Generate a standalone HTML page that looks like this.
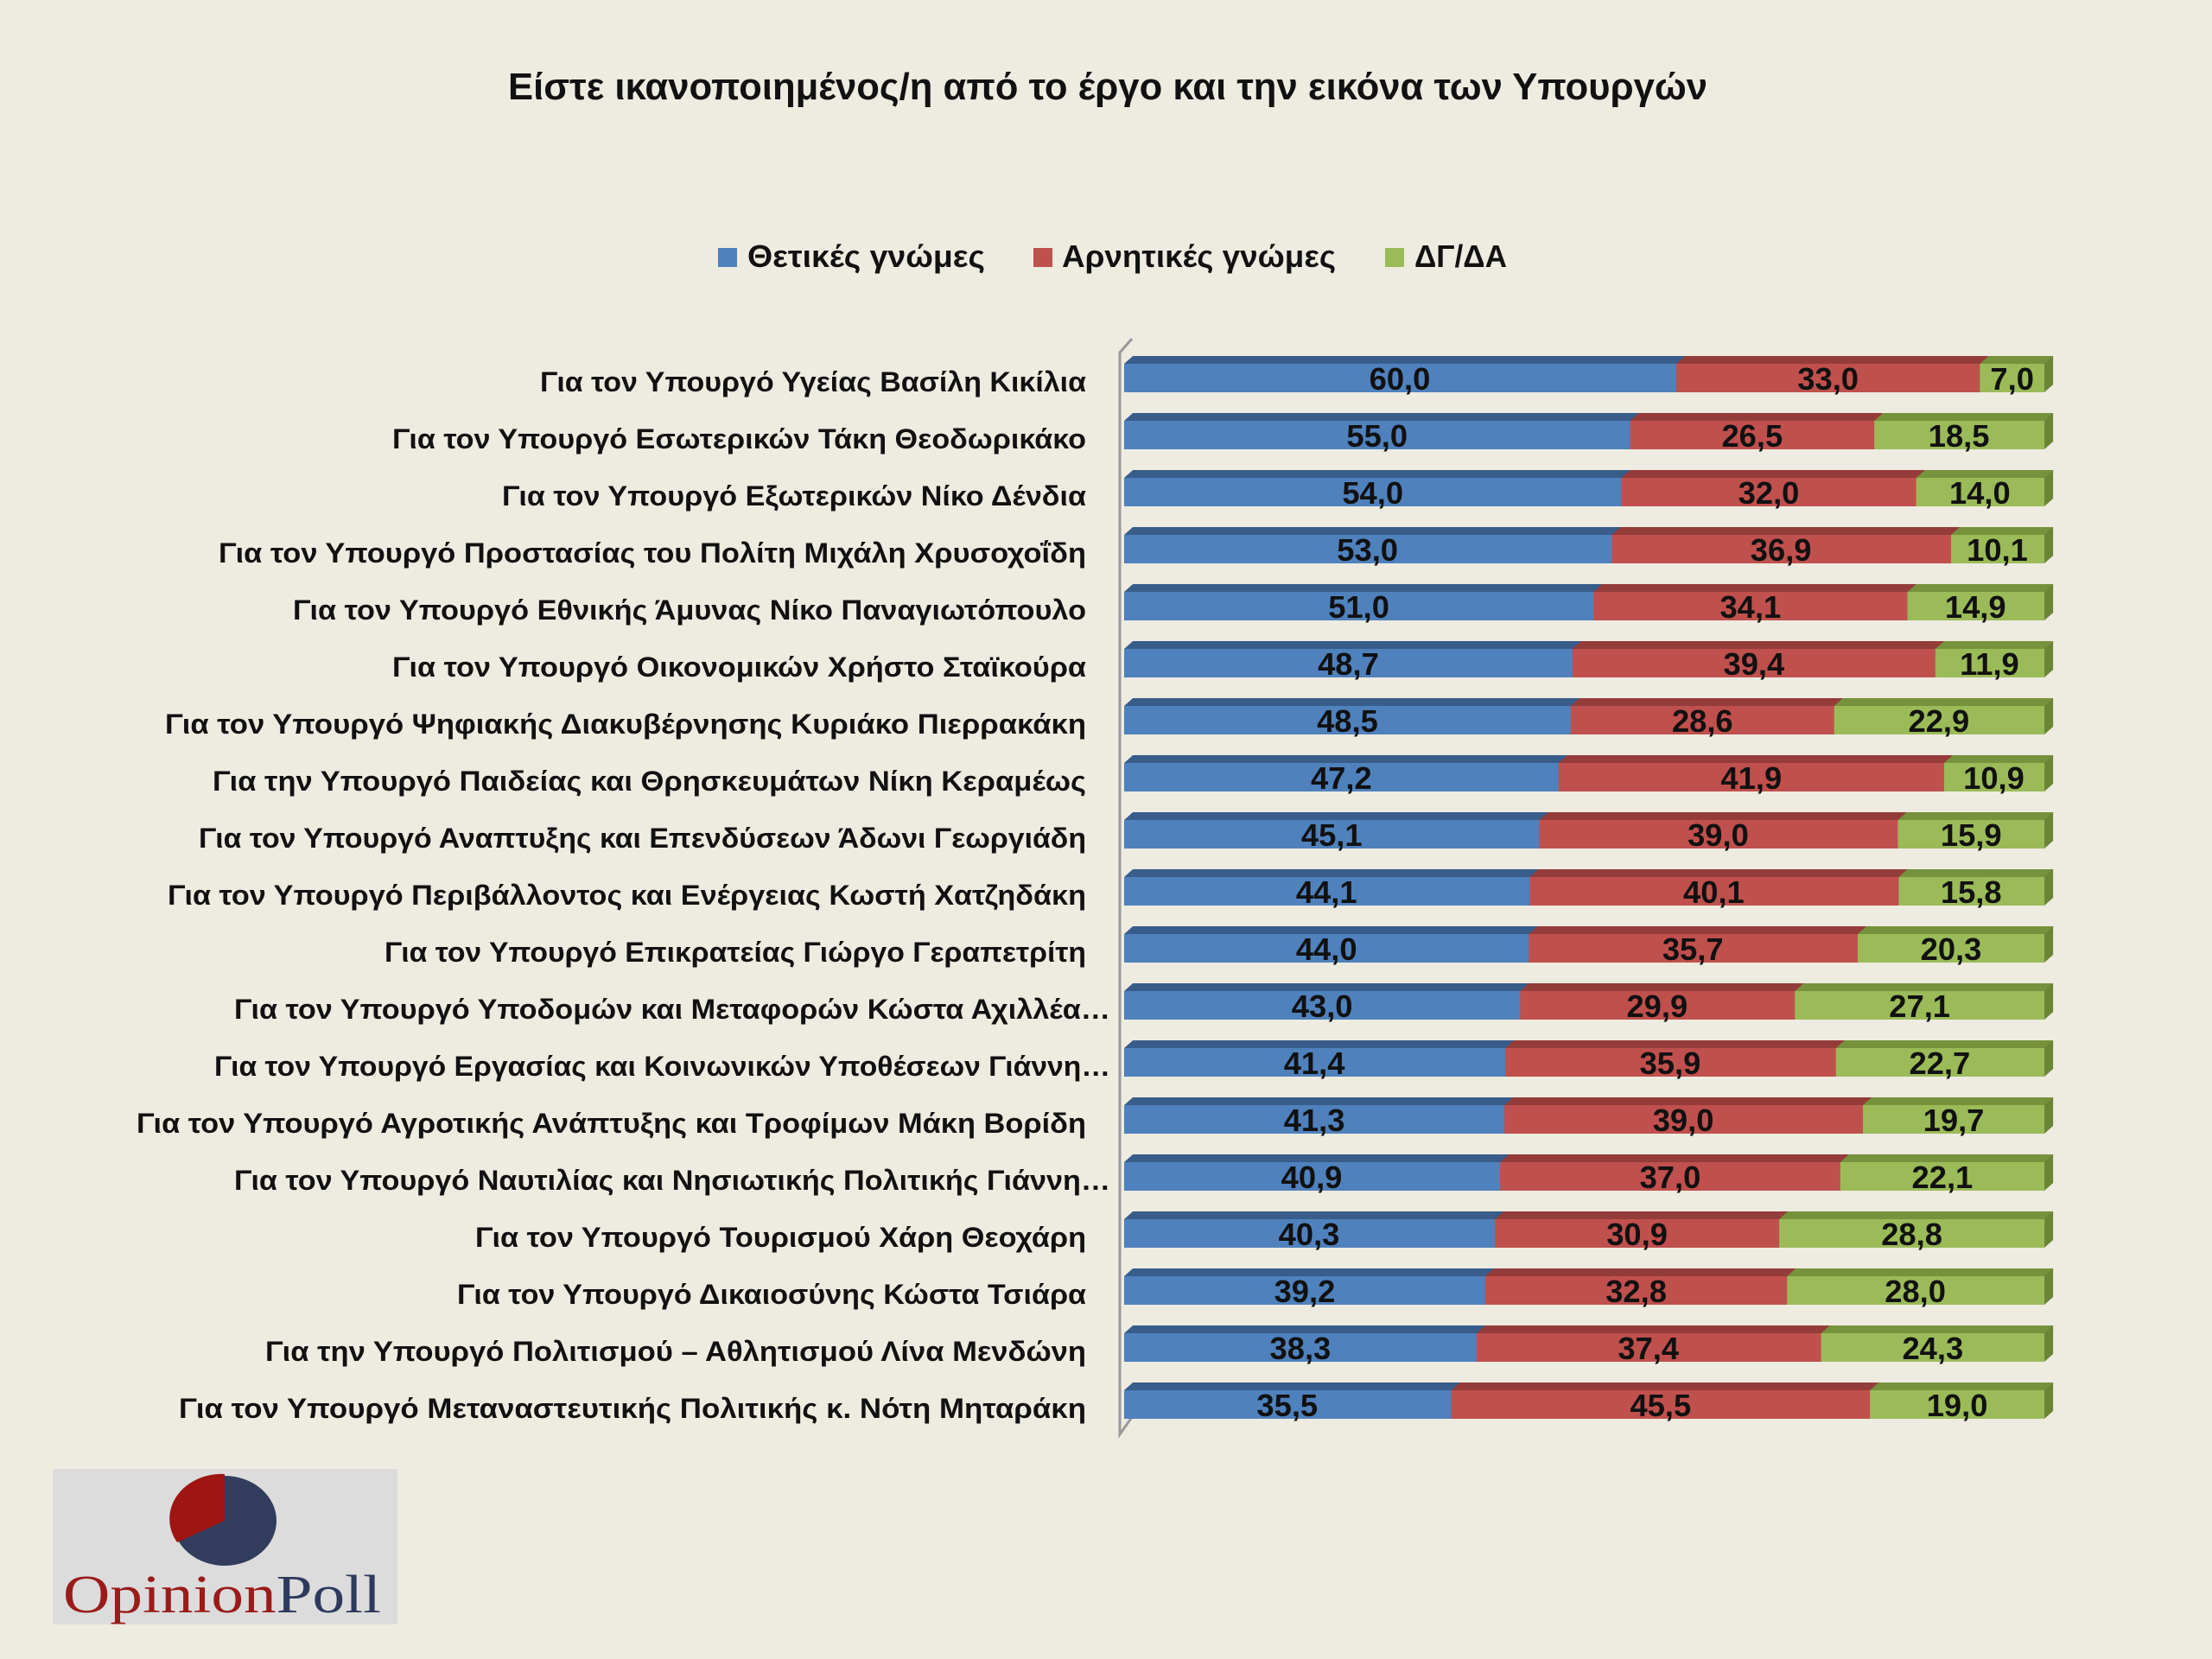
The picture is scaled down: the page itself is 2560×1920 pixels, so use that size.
<!DOCTYPE html>
<html><head><meta charset="utf-8"><style>html,body{margin:0;padding:0;background:#eeebe1}svg{display:block}</style></head><body>
<svg width="2560" height="1920" viewBox="0 0 2560 1920" xmlns="http://www.w3.org/2000/svg" font-family="'Liberation Sans', sans-serif" font-weight="bold">
<rect width="2560" height="1920" fill="#eeebe1"/>
<text x="1282" y="115" font-size="44" text-anchor="middle" textLength="1388" lengthAdjust="spacingAndGlyphs" fill="#111">Είστε ικανοποιημένος/η από το έργο και την εικόνα των Υπουργών</text>
<g font-size="36" fill="#111">
<rect x="831" y="287" width="22" height="22" fill="#4f81bd"/><text x="865" y="309" textLength="275" lengthAdjust="spacingAndGlyphs">Θετικές γνώμες</text>
<rect x="1196" y="287" width="22" height="22" fill="#c0504d"/><text x="1229" y="309" textLength="317" lengthAdjust="spacingAndGlyphs">Αρνητικές γνώμες</text>
<rect x="1603" y="287" width="22" height="22" fill="#9bbb59"/><text x="1637" y="309" textLength="107" lengthAdjust="spacingAndGlyphs">ΔΓ/ΔΑ</text>
</g>
<polyline points="1310,392 1296,408 1296,1660 1310,1640" fill="none" stroke="#999" stroke-width="3"/>
<g font-size="32" fill="#111" text-anchor="end">
<text x="1257" y="453" textLength="632" lengthAdjust="spacingAndGlyphs">Για τον Υπουργό Υγείας Βασίλη Κικίλια</text>
<text x="1257" y="519" textLength="803" lengthAdjust="spacingAndGlyphs">Για τον Υπουργό Εσωτερικών Τάκη Θεοδωρικάκο</text>
<text x="1257" y="585" textLength="676" lengthAdjust="spacingAndGlyphs">Για τον Υπουργό Εξωτερικών Νίκο Δένδια</text>
<text x="1257" y="651" textLength="1004" lengthAdjust="spacingAndGlyphs">Για τον Υπουργό Προστασίας του Πολίτη Μιχάλη Χρυσοχοΐδη</text>
<text x="1257" y="717" textLength="918" lengthAdjust="spacingAndGlyphs">Για τον Υπουργό Εθνικής Άμυνας Νίκο Παναγιωτόπουλο</text>
<text x="1257" y="783" textLength="803" lengthAdjust="spacingAndGlyphs">Για τον Υπουργό Οικονομικών Χρήστο Σταϊκούρα</text>
<text x="1257" y="849" textLength="1066" lengthAdjust="spacingAndGlyphs">Για τον Υπουργό Ψηφιακής Διακυβέρνησης Κυριάκο Πιερρακάκη</text>
<text x="1257" y="915" textLength="1011" lengthAdjust="spacingAndGlyphs">Για την Υπουργό Παιδείας και Θρησκευμάτων Νίκη Κεραμέως</text>
<text x="1257" y="981" textLength="1027" lengthAdjust="spacingAndGlyphs">Για τον Υπουργό Αναπτυξης και Επενδύσεων Άδωνι Γεωργιάδη</text>
<text x="1257" y="1047" textLength="1063" lengthAdjust="spacingAndGlyphs">Για τον Υπουργό Περιβάλλοντος και Ενέργειας Κωστή Χατζηδάκη</text>
<text x="1257" y="1113" textLength="812" lengthAdjust="spacingAndGlyphs">Για τον Υπουργό Επικρατείας Γιώργο Γεραπετρίτη</text>
<text x="1285" y="1179" textLength="1014" lengthAdjust="spacingAndGlyphs">Για τον Υπουργό Υποδομών και Μεταφορών Κώστα Αχιλλέα…</text>
<text x="1285" y="1245" textLength="1037" lengthAdjust="spacingAndGlyphs">Για τον Υπουργό Εργασίας και Κοινωνικών Υποθέσεων Γιάννη…</text>
<text x="1257" y="1311" textLength="1099" lengthAdjust="spacingAndGlyphs">Για τον Υπουργό Αγροτικής Ανάπτυξης και Τροφίμων Μάκη Βορίδη</text>
<text x="1285" y="1377" textLength="1014" lengthAdjust="spacingAndGlyphs">Για τον Υπουργό Ναυτιλίας και Νησιωτικής Πολιτικής Γιάννη…</text>
<text x="1257" y="1443" textLength="707" lengthAdjust="spacingAndGlyphs">Για τον Υπουργό Τουρισμού Χάρη Θεοχάρη</text>
<text x="1257" y="1509" textLength="728" lengthAdjust="spacingAndGlyphs">Για τον Υπουργό Δικαιοσύνης Κώστα Τσιάρα</text>
<text x="1257" y="1575" textLength="950" lengthAdjust="spacingAndGlyphs">Για την Υπουργό Πολιτισμού – Αθλητισμού Λίνα Μενδώνη</text>
<text x="1257" y="1641" textLength="1050" lengthAdjust="spacingAndGlyphs">Για τον Υπουργό Μεταναστευτικής Πολιτικής κ. Νότη Μηταράκη</text>
</g>
<defs>
<g id="base">
<polygon points="1301,421 1311,412 2366,412 2356,421" fill="#385d8a"/>
<polygon points="2356,421 2366,412 2366,445 2356,454" fill="#6a8536"/>
<rect x="1301" y="421" width="1055" height="33" fill="#4f81bd"/>
</g>
</defs>
<g font-size="36" fill="#111" text-anchor="middle" transform="translate(1301,0) scale(1.0095,1) translate(-1301,0)">
<g transform="translate(0,0)"><use href="#base"/><polygon points="1934,421 1944,412 2366,412 2356,421" fill="#943c3a"/><rect x="1934" y="421" width="422" height="33" fill="#c0504d"/><polygon points="2282,421 2292,412 2366,412 2356,421" fill="#76923c"/><rect x="2282" y="421" width="74" height="33" fill="#9bbb59"/><text x="1617" y="451">60,0</text><text x="2108" y="451">33,0</text><text x="2319" y="451">7,0</text></g>
<g transform="translate(0,66)"><use href="#base"/><polygon points="1881,421 1891,412 2366,412 2356,421" fill="#943c3a"/><rect x="1881" y="421" width="475" height="33" fill="#c0504d"/><polygon points="2161,421 2171,412 2366,412 2356,421" fill="#76923c"/><rect x="2161" y="421" width="195" height="33" fill="#9bbb59"/><text x="1591" y="451">55,0</text><text x="2021" y="451">26,5</text><text x="2258" y="451">18,5</text></g>
<g transform="translate(0,132)"><use href="#base"/><polygon points="1871,421 1881,412 2366,412 2356,421" fill="#943c3a"/><rect x="1871" y="421" width="485" height="33" fill="#c0504d"/><polygon points="2209,421 2219,412 2366,412 2356,421" fill="#76923c"/><rect x="2209" y="421" width="147" height="33" fill="#9bbb59"/><text x="1586" y="451">54,0</text><text x="2040" y="451">32,0</text><text x="2282" y="451">14,0</text></g>
<g transform="translate(0,198)"><use href="#base"/><polygon points="1860,421 1870,412 2366,412 2356,421" fill="#943c3a"/><rect x="1860" y="421" width="496" height="33" fill="#c0504d"/><polygon points="2249,421 2259,412 2366,412 2356,421" fill="#76923c"/><rect x="2249" y="421" width="107" height="33" fill="#9bbb59"/><text x="1580" y="451">53,0</text><text x="2054" y="451">36,9</text><text x="2302" y="451">10,1</text></g>
<g transform="translate(0,264)"><use href="#base"/><polygon points="1839,421 1849,412 2366,412 2356,421" fill="#943c3a"/><rect x="1839" y="421" width="517" height="33" fill="#c0504d"/><polygon points="2199,421 2209,412 2366,412 2356,421" fill="#76923c"/><rect x="2199" y="421" width="157" height="33" fill="#9bbb59"/><text x="1570" y="451">51,0</text><text x="2019" y="451">34,1</text><text x="2277" y="451">14,9</text></g>
<g transform="translate(0,330)"><use href="#base"/><polygon points="1815,421 1825,412 2366,412 2356,421" fill="#943c3a"/><rect x="1815" y="421" width="541" height="33" fill="#c0504d"/><polygon points="2231,421 2241,412 2366,412 2356,421" fill="#76923c"/><rect x="2231" y="421" width="125" height="33" fill="#9bbb59"/><text x="1558" y="451">48,7</text><text x="2023" y="451">39,4</text><text x="2293" y="451">11,9</text></g>
<g transform="translate(0,396)"><use href="#base"/><polygon points="1813,421 1823,412 2366,412 2356,421" fill="#943c3a"/><rect x="1813" y="421" width="543" height="33" fill="#c0504d"/><polygon points="2115,421 2125,412 2366,412 2356,421" fill="#76923c"/><rect x="2115" y="421" width="241" height="33" fill="#9bbb59"/><text x="1557" y="451">48,5</text><text x="1964" y="451">28,6</text><text x="2235" y="451">22,9</text></g>
<g transform="translate(0,462)"><use href="#base"/><polygon points="1799,421 1809,412 2366,412 2356,421" fill="#943c3a"/><rect x="1799" y="421" width="557" height="33" fill="#c0504d"/><polygon points="2241,421 2251,412 2366,412 2356,421" fill="#76923c"/><rect x="2241" y="421" width="115" height="33" fill="#9bbb59"/><text x="1550" y="451">47,2</text><text x="2020" y="451">41,9</text><text x="2298" y="451">10,9</text></g>
<g transform="translate(0,528)"><use href="#base"/><polygon points="1777,421 1787,412 2366,412 2356,421" fill="#943c3a"/><rect x="1777" y="421" width="579" height="33" fill="#c0504d"/><polygon points="2188,421 2198,412 2366,412 2356,421" fill="#76923c"/><rect x="2188" y="421" width="168" height="33" fill="#9bbb59"/><text x="1539" y="451">45,1</text><text x="1982" y="451">39,0</text><text x="2272" y="451">15,9</text></g>
<g transform="translate(0,594)"><use href="#base"/><polygon points="1766,421 1776,412 2366,412 2356,421" fill="#943c3a"/><rect x="1766" y="421" width="590" height="33" fill="#c0504d"/><polygon points="2189,421 2199,412 2366,412 2356,421" fill="#76923c"/><rect x="2189" y="421" width="167" height="33" fill="#9bbb59"/><text x="1533" y="451">44,1</text><text x="1977" y="451">40,1</text><text x="2272" y="451">15,8</text></g>
<g transform="translate(0,660)"><use href="#base"/><polygon points="1765,421 1775,412 2366,412 2356,421" fill="#943c3a"/><rect x="1765" y="421" width="591" height="33" fill="#c0504d"/><polygon points="2142,421 2152,412 2366,412 2356,421" fill="#76923c"/><rect x="2142" y="421" width="214" height="33" fill="#9bbb59"/><text x="1533" y="451">44,0</text><text x="1953" y="451">35,7</text><text x="2249" y="451">20,3</text></g>
<g transform="translate(0,726)"><use href="#base"/><polygon points="1755,421 1765,412 2366,412 2356,421" fill="#943c3a"/><rect x="1755" y="421" width="601" height="33" fill="#c0504d"/><polygon points="2070,421 2080,412 2366,412 2356,421" fill="#76923c"/><rect x="2070" y="421" width="286" height="33" fill="#9bbb59"/><text x="1528" y="451">43,0</text><text x="1912" y="451">29,9</text><text x="2213" y="451">27,1</text></g>
<g transform="translate(0,792)"><use href="#base"/><polygon points="1738,421 1748,412 2366,412 2356,421" fill="#943c3a"/><rect x="1738" y="421" width="618" height="33" fill="#c0504d"/><polygon points="2117,421 2127,412 2366,412 2356,421" fill="#76923c"/><rect x="2117" y="421" width="239" height="33" fill="#9bbb59"/><text x="1519" y="451">41,4</text><text x="1927" y="451">35,9</text><text x="2236" y="451">22,7</text></g>
<g transform="translate(0,858)"><use href="#base"/><polygon points="1737,421 1747,412 2366,412 2356,421" fill="#943c3a"/><rect x="1737" y="421" width="619" height="33" fill="#c0504d"/><polygon points="2148,421 2158,412 2366,412 2356,421" fill="#76923c"/><rect x="2148" y="421" width="208" height="33" fill="#9bbb59"/><text x="1519" y="451">41,3</text><text x="1942" y="451">39,0</text><text x="2252" y="451">19,7</text></g>
<g transform="translate(0,924)"><use href="#base"/><polygon points="1732,421 1742,412 2366,412 2356,421" fill="#943c3a"/><rect x="1732" y="421" width="624" height="33" fill="#c0504d"/><polygon points="2122,421 2132,412 2366,412 2356,421" fill="#76923c"/><rect x="2122" y="421" width="234" height="33" fill="#9bbb59"/><text x="1516" y="451">40,9</text><text x="1927" y="451">37,0</text><text x="2239" y="451">22,1</text></g>
<g transform="translate(0,990)"><use href="#base"/><polygon points="1726,421 1736,412 2366,412 2356,421" fill="#943c3a"/><rect x="1726" y="421" width="630" height="33" fill="#c0504d"/><polygon points="2052,421 2062,412 2366,412 2356,421" fill="#76923c"/><rect x="2052" y="421" width="304" height="33" fill="#9bbb59"/><text x="1513" y="451">40,3</text><text x="1889" y="451">30,9</text><text x="2204" y="451">28,8</text></g>
<g transform="translate(0,1056)"><use href="#base"/><polygon points="1715,421 1725,412 2366,412 2356,421" fill="#943c3a"/><rect x="1715" y="421" width="641" height="33" fill="#c0504d"/><polygon points="2061,421 2071,412 2366,412 2356,421" fill="#76923c"/><rect x="2061" y="421" width="295" height="33" fill="#9bbb59"/><text x="1508" y="451">39,2</text><text x="1888" y="451">32,8</text><text x="2208" y="451">28,0</text></g>
<g transform="translate(0,1122)"><use href="#base"/><polygon points="1705,421 1715,412 2366,412 2356,421" fill="#943c3a"/><rect x="1705" y="421" width="651" height="33" fill="#c0504d"/><polygon points="2100,421 2110,412 2366,412 2356,421" fill="#76923c"/><rect x="2100" y="421" width="256" height="33" fill="#9bbb59"/><text x="1503" y="451">38,3</text><text x="1902" y="451">37,4</text><text x="2228" y="451">24,3</text></g>
<g transform="translate(0,1188)"><use href="#base"/><polygon points="1676,421 1686,412 2366,412 2356,421" fill="#943c3a"/><rect x="1676" y="421" width="680" height="33" fill="#c0504d"/><polygon points="2156,421 2166,412 2366,412 2356,421" fill="#76923c"/><rect x="2156" y="421" width="200" height="33" fill="#9bbb59"/><text x="1488" y="451">35,5</text><text x="1916" y="451">45,5</text><text x="2256" y="451">19,0</text></g>
</g>
<rect x="61" y="1700" width="399" height="180" fill="#dcdcdc"/>
<ellipse cx="260" cy="1760" rx="60" ry="52" fill="#323d5e"/>
<path d="M260,1760 L260,1706 A60,52 0 0,0 205,1785 Z" fill="#9e1512"/>
<text x="73" y="1866" font-family="'Liberation Serif', serif" font-weight="normal" font-size="62" textLength="368" lengthAdjust="spacingAndGlyphs"><tspan fill="#9b1b1b">Opinion</tspan><tspan fill="#2e3a5c">Poll</tspan></text>
</svg>
</body></html>
